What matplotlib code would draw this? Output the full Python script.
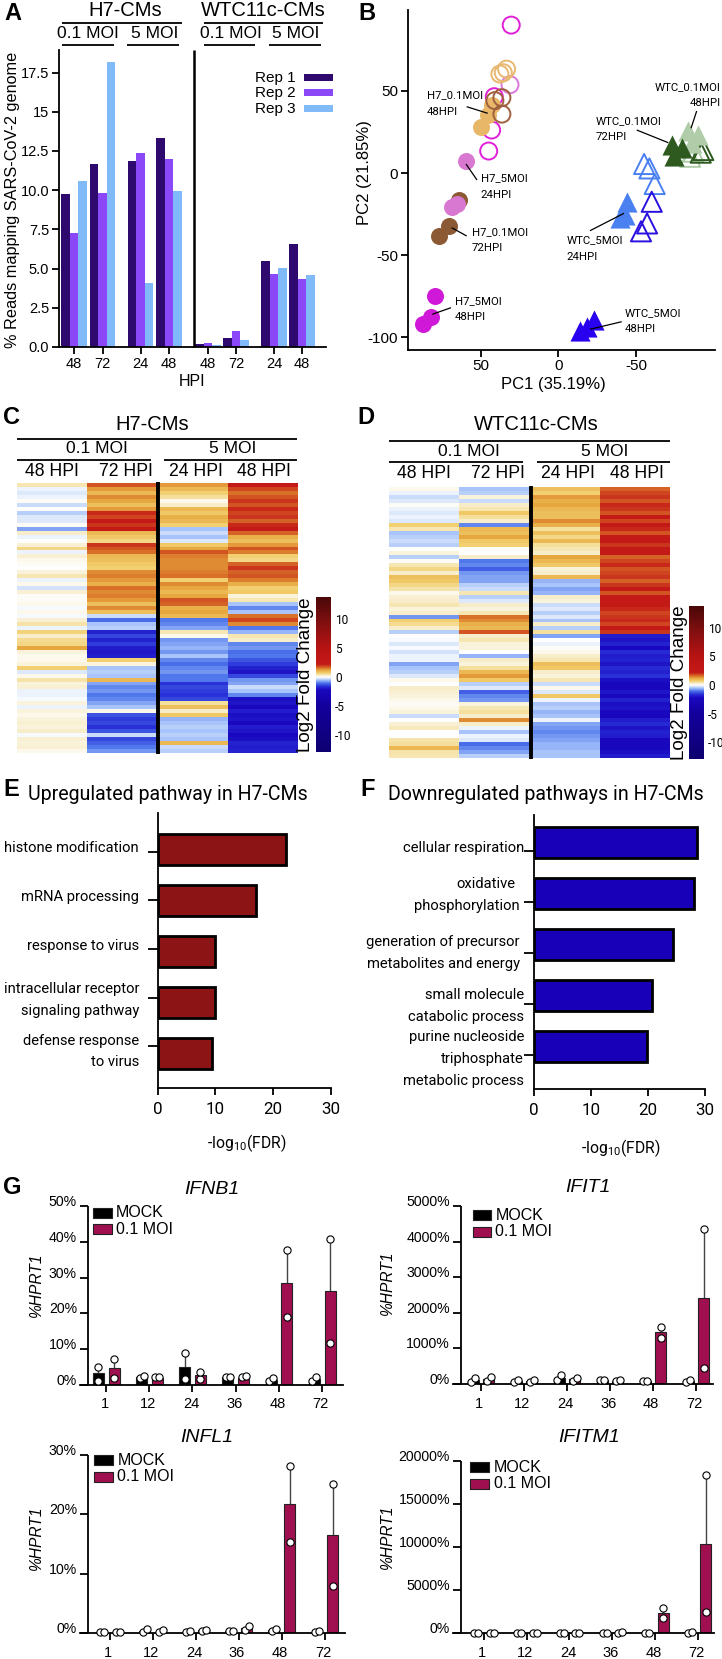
"""Multi-panel SARS-CoV-2 cardiomyocyte figure (A-G)."""

import matplotlib
matplotlib.use('Agg')
import matplotlib.pyplot as plt
from matplotlib import font_manager
from matplotlib.colors import LinearSegmentedColormap, Normalize
import numpy as np

W, H = 722, 1659

# Panel A
rep1 = [9.75, 11.65, 11.85, 13.35, 0.2, 0.55, 5.5, 6.55]
rep2 = [7.25, 9.8, 12.35, 12.0, 0.25, 1.0, 4.65, 4.35]
rep3 = [10.6, 18.2, 4.05, 9.95, 0.15, 0.45, 5.05, 4.6]
a_hpi = ['48', '72', '24', '48', '48', '72', '24', '48']
a_ticks = [0.0, 2.5, 5.0, 7.5, 10.0, 12.5, 15, 17.5]
a_ticklabels = ['0.0', '2.5', '5.0', '7.5', '10.0', '12.5', '15', '17.5']

# Panel B (PC1, PC2 per condition)
h7_5_24_open_x = [30.3, 41.2, 42.9, 44.8]
h7_5_24_open_y = [90.1, 46.5, 26.2, 13.4]
h7_5_24_violet_x = [31.1]
h7_5_24_violet_y = [53.8]
h7_orange_open_x = [33.3, 35.4, 37.6]
h7_orange_open_y = [63.3, 61.1, 60.3]
h7_brown_open_x = [36.3, 40.8, 36.3]
h7_brown_open_y = [45.9, 44.1, 35.9]
h7_orange_x = [42.9, 45.1, 50.0]
h7_orange_y = [41.4, 35.3, 28.2]
h7_brown_x = [63.9, 70.2, 76.6]
h7_brown_y = [-16.4, -32.1, -38.2]
h7_orchid_x = [59.2, 65.5, 68.7]
h7_orchid_y = [7.1, -18.9, -20.9]
h7_magenta_x = [79.4, 82.2, 86.9]
h7_magenta_y = [-74.9, -87.5, -92.0]
wtc_lblue_open_x = [-55.2, -58.6, -62.0]
wtc_lblue_open_y = [5.5, 2.8, -6.7]
wtc_blue_open_x = [-60.1, -57.1, -53.2]
wtc_blue_open_y = [-17.5, -30.7, -35.5]
wtc_lblue_x = [-44.0, -42.9, -39.7]
wtc_lblue_y = [-17.9, -25.6, -27.6]
wtc_blue_x = [-23.2, -18.2, -13.9]
wtc_blue_y = [-89.5, -93.6, -96.2]
wtc_pale_open_x = [-84.8, -86.9]
wtc_pale_open_y = [9.9, 13.0]
wtc_dgreen_open_x = [-93.3, -91.6]
wtc_dgreen_open_y = [14.0, 12.4]
wtc_pale_x = [-83.7, -90.1, -85.8]
wtc_pale_y = [25.8, 23.1, 18.1]
wtc_dgreen_x = [-73.0, -79.4, -74.7]
wtc_dgreen_y = [17.1, 15.0, 10.4]

# Panel C rows, log2 fold change
c_48_01 = [0.4, -0.1, -0.2, -0.1, 0.05, -0.3, 0.02, -0.4, -0.2, -0.2,
           0.05, -0.7, 0.3, -0.1, 0.0, 0.25, 0.6, -0.1, 0.25, 0.1,
           0.05, 0.02, 0.2, 0.4, -0.1, 0.1, -0.25, 0.25, 0.05, 0.05,
           0.1, -0.05, 0.1, -0.05, 0.25, 0.45, -0.1, 0.65, 0.3, 0.55,
           0.6, 1.2, 0.2, 0.1, 0.1, 0.2, 0.7, -0.2, 0.1, 0.45,
           0.2, 0.25, -0.1, -0.1, -0.05, 0.2, -0.1, 0.2, 0.1, 0.2,
           0.25, 0.2, 0.3, -0.05, 0.25, 0.2, 0.25, 0.1]
c_72_01 = [1.8, 1.3, 1.0, 1.4, 1.2, 0.9, 1.3, 2.1, 1.9, 2.2,
           2.0, 2.2, 1.0, 0.8, 0.6, 2.0, 1.8, 1.6, 1.0, 0.9,
           0.8, 0.7, 1.4, 1.5, 1.3, 1.1, 1.6, 1.4, 1.5, 1.3,
           0.9, 1.4, 0.9, -0.3, -1.1, -0.5, -0.4, -1.8, -1.4, -1.8,
           -1.5, -1.9, -2.0, -1.9, 0.7, 0.2, -0.5, -0.4, -0.5, 1.0,
           -0.7, -0.9, -0.8, -1.0, -0.9, -0.7, -0.5, 0.1, -1.3, -1.5,
           -1.4, -1.6, -1.3, -0.3, -1.4, -1.2, -1.0, -0.8]
c_24_5 = [1.3, 1.0, 0.7, 0.5, 0.1, 0.3, 1.0, 0.8, 1.1, 1.0,
          0.7, -0.5, -0.3, -0.5, -0.2, 0.8, 1.2, 1.8, 1.5, 1.4,
          1.4, 1.4, 1.5, 1.6, 0.7, 1.4, 1.2, 1.0, 1.2, 1.8,
          1.7, 1.1, 1.2, 1.0, -1.0, -0.9, -0.7, 0.4, 0.1, -0.8,
          -0.7, -0.6, -0.8, -0.5, -0.9, -1.1, -0.9, -0.8, -1.0, -1.0,
          -1.6, -1.4, -1.5, -1.6, -1.4, 0.5, 0.9, 0.3, 0.8, -0.6,
          -0.5, -0.4, -0.5, -0.4, -0.5, 1.0, -0.3, -0.4]
c_48_5 = [2.3, 1.9, 1.6, 1.8, 2.0, 1.8, 2.1, 1.9, 2.0, 1.7,
          2.1, 2.2, 1.7, 1.1, 0.9, 1.3, 1.8, 1.5, 0.7, 0.6,
          1.7, 2.0, 1.7, 1.8, 1.5, 1.1, 0.7, 0.8, 0.2, 0.4,
          -0.5, -0.9, -0.5, 1.6, 1.9, 1.4, -1.0, -0.6, 0.4, 0.3,
          -0.9, -0.8, -1.1, -1.0, -1.3, -1.5, -1.8, -2.0, -1.4, -0.8,
          -0.7, -0.3, -0.5, -0.9, -2.1, -2.0, -2.2, -1.9, -2.1, -2.0,
          -2.2, -1.9, -2.0, -2.2, -2.1, -1.8, -1.9, -1.8]

# Panel D rows, log2 fold change
d_48_01 = [0.1, -0.1, -0.3, -0.2, 0.05, -0.1, -0.2, -0.1, -0.2, 0.7,
           0.4, -0.5, -0.4, -0.3, -0.4, 0.02, 0.2, -0.4, 0.05, 0.4,
           0.6, 0.3, 0.9, 0.8, 0.6, 0.45, 0.1, 0.25, 0.3, 0.4,
           0.2, 0.3, -0.8, 0.7, 0.55, 0.3, -0.4, 0.0, -0.05, -0.2,
           -0.05, -0.25, -0.1, -0.1, -0.7, -0.5, -0.4, -0.2, 0.1, 0.0,
           0.3, 0.25, 0.2, 0.1, 0.05, 0.1, 0.2, -0.3, 0.0, 0.25,
           0.35, 0.0, 0.0, 0.45, 0.5, 1.0, 0.45, 0.4]
d_72_01 = [-0.5, -0.4, 0.2, -0.3, 0.3, 0.4, 0.8, 0.5, 0.3, -0.9,
           1.0, 0.9, 1.2, 0.8, 0.7, 0.05, 0.0, 0.3, -1.0, -0.9,
           -1.2, -0.8, -0.7, -0.7, -0.4, -0.3, 0.4, -0.4, -0.2, 0.3,
           0.2, 0.4, 1.6, 1.4, 1.1, 1.0, 1.8, 0.3, 0.4, 0.2,
           0.2, 0.0, -0.6, 0.3, 0.2, 0.5, 1.0, 1.3, 0.8, -0.4,
           -0.2, -1.2, -0.9, -0.8, 0.2, 0.4, 0.5, 0.3, 1.4, 0.3,
           -0.1, -0.5, -0.1, -0.2, -1.1, -0.9, -0.7, -0.4]
d_24_5 = [0.9, 0.7, 1.3, 1.1, 1.2, 1.0, 0.9, 0.9, 1.4, 1.1,
          0.5, 0.9, 0.6, 1.0, 0.5, 0.4, 0.3, 1.2, 1.0, 0.8,
          0.2, 0.3, 1.0, -0.6, -0.5, -0.7, -0.6, 0.3, 0.2, -0.3,
          -0.2, -0.4, -0.2, -0.5, 0.3, -0.4, 0.5, -0.7, 0.0, -0.1,
          0.05, 0.1, 0.3, 0.4, 0.9, 0.8, 0.3, 0.2, 0.4, -0.3,
          0.1, -0.2, 0.8, -0.1, -0.5, -0.4, -0.6, -0.5, -0.1, -0.7,
          -0.8, -0.9, -0.8, -0.7, -0.6, -0.6, -0.5, -0.5]
d_48_5 = [1.7, 1.9, 2.0, 1.8, 2.1, 2.0, 1.8, 2.2, 1.9, 2.2,
          2.1, 1.8, 2.2, 2.2, 2.0, 2.3, 2.2, 1.7, 1.9, 2.1,
          1.8, 1.9, 2.0, 1.7, 2.0, 2.2, 1.8, 2.2, 2.3, 2.2,
          2.1, 1.9, 2.0, 2.1, 1.9, 2.2, 2.0, -1.9, -2.0, -1.8,
          -2.2, -1.7, -1.9, -1.8, -2.0, -1.7, -1.8, -1.6, -2.1, -2.3,
          -2.4, -2.0, -2.2, -1.8, -2.1, -2.0, -2.2, -2.3, -1.9, -1.7,
          -2.0, -1.8, -1.9, -2.3, -2.4, -2.3, -2.1, -1.9]

# Panels E and F
up_values = [22.3, 17.1, 10.05, 9.95, 9.5]
down_values = [28.6, 28.1, 24.4, 20.7, 19.85]
fdr_ticks = [0, 10, 20, 30]

# Panel G
hours = ['1', '12', '24', '36', '48', '72']
ifnb1_mock = [3.25, 2.1, 5.1, 2.2, 1.5, 1.7]
ifnb1_moi = [4.7, 2.0, 2.8, 2.0, 28.4, 26.2]
ifnb1_mock_lo = [1.2, 1.9, 1.6, 2.1, 1.2, 1.2]
ifnb1_mock_hi = [5.1, 2.5, 8.9, 2.3, 1.9, 2.2]
ifnb1_moi_lo = [1.9, 2.3, 1.6, 2.1, 19.0, 11.8]
ifnb1_moi_hi = [7.4, 2.3, 3.7, 2.6, 37.7, 40.7]

ifit1_mock = [100, 85, 170, 105, 90, 85]
ifit1_moi = [130, 90, 135, 95, 1450, 2410]
ifit1_mock_lo = [47, 70, 100, 100, 90, 70]
ifit1_mock_hi = [160, 100, 240, 115, 90, 100]
ifit1_moi_lo = [85, 70, 90, 80, 1300, 440]
ifit1_moi_hi = [188, 115, 180, 115, 1610, 4365]

infl1_mock = [0.2, 0.4, 0.3, 0.35, 0.5, 0.25]
infl1_moi = [0.3, 0.3, 0.5, 0.9, 21.8, 16.5]
infl1_mock_lo = [0.2, 0.15, 0.15, 0.35, 0.35, 0.2]
infl1_mock_hi = [0.2, 0.7, 0.45, 0.4, 0.7, 0.35]
infl1_moi_lo = [0.3, 0.15, 0.45, 0.55, 15.4, 8.0]
infl1_moi_hi = [0.3, 0.5, 0.55, 1.3, 28.2, 25.1]

ifitm1_mock = [40, 40, 30, 30, 40, 60]
ifitm1_moi = [40, 50, 50, 90, 2315, 10350]
ifitm1_mock_lo = [0, 0, 40, 40, 40, 40]
ifitm1_mock_hi = [80, 80, 40, 40, 80, 150]
ifitm1_moi_lo = [0, 40, 40, 40, 1740, 2430]
ifitm1_moi_hi = [80, 80, 80, 150, 2930, 18300]


def has_font(name):
    try:
        font_manager.findfont(name, fallback_to_default=False)
        return True
    except ValueError:
        return False


# condensed labels: true narrow face if present, else Roboto which runs a bit tighter
if has_font('Liberation Sans Narrow'):
    NARROW, NARROW_SCALE = 'Liberation Sans Narrow', 1.0
else:
    NARROW, NARROW_SCALE = 'Roboto', 0.87

plt.rcParams['font.family'] = 'Liberation Sans'
plt.rcParams['mathtext.fontset'] = 'custom'
plt.rcParams['mathtext.rm'] = NARROW
plt.rcParams['mathtext.default'] = 'regular'
plt.rcParams['axes.linewidth'] = 1.3

fig = plt.figure(figsize=(W / 100, H / 100), dpi=100)


def ax_px(x0, y0, x1, y1):
    return fig.add_axes([x0 / W, 1 - y1 / H, (x1 - x0) / W, (y1 - y0) / H])


def clean(ax, tick_len=5):
    ax.spines['top'].set_visible(False)
    ax.spines['right'].set_visible(False)
    ax.patch.set_alpha(0)
    ax.tick_params(length=tick_len, width=1.3, pad=2)


over = fig.add_axes([0, 0, 1, 1], zorder=10)
over.set_xlim(0, W)
over.set_ylim(H, 0)
over.axis('off')


def txt(x, y, s, size=12, ha='center', narrow=False, **kw):
    if narrow:
        kw['family'] = NARROW
        size = size * NARROW_SCALE
    over.text(x, y, s, fontsize=size, ha=ha, va='center', **kw)


def line(x0, y0, x1, y1, lw=1.3, color='black'):
    over.plot([x0, x1], [y0, y1], color=color, lw=lw, solid_capstyle='butt')


def letter(x, y, s):
    txt(x, y, s, size=17, ha='left', fontweight='bold')


# ---- Panel A
letter(4, 13, 'A')
ax = ax_px(59, 50, 326, 347)
clean(ax)
group_x = np.array([74, 102.5, 140.7, 169, 208, 236, 274, 302])
bar_w = 8.5
ax.bar(group_x - bar_w, rep1, bar_w, color='#2e0a6e')
ax.bar(group_x, rep2, bar_w, color='#8a48f8')
ax.bar(group_x + bar_w, rep3, bar_w, color='#80baf8')
ax.set_xlim(59, 326)
ax.set_ylim(0, 297 / 15.68)
ax.set_xticks(group_x)
ax.set_xticklabels(a_hpi, fontsize=10.5)
ax.set_yticks(a_ticks)
ax.set_yticklabels(a_ticklabels, fontsize=10.5)
line(194, 50, 194, 347, lw=1.8)
txt(125, 11, 'H7-CMs', size=14.5)
txt(263, 11, 'WTC11c-CMs', size=14.5)
line(62, 22.5, 182, 22.5)
line(204, 22.5, 323, 22.5)
for cx, s, x0, x1 in [(88, '0.1 MOI', 62, 114), (155, '5 MOI', 127, 179),
                      (231, '0.1 MOI', 204, 255), (296, '5 MOI', 269, 321)]:
    txt(cx, 34, s, size=12.5)
    line(x0, 45, x1, 45)
txt(13, 200, '% Reads mapping SARS-CoV-2 genome', size=11.7, rotation=90)
txt(192, 381, 'HPI', size=11.5)
for yy, s, c in [(77, 'Rep 1', '#2e0a6e'), (92, 'Rep 2', '#8a48f8'), (108, 'Rep 3', '#80baf8')]:
    txt(296, yy + 1, s, size=11, ha='right')
    over.fill_between([304, 333], yy - 3.5, yy + 3.5, color=c, lw=0)

# ---- Panel B
letter(358, 13, 'B')
ax = ax_px(407.7, 10, 715, 349.7)
clean(ax)
ax.set_xlim(96.9, -100.8)
ax.set_ylim(-107.6, 99.3)
circle = dict(marker='o', s=150)
tri = dict(marker='^', s=210)


def pts(x, y, color, filled=True, kind=circle, lw=1.4):
    if filled:
        ax.scatter(x, y, color=color, linewidths=0, **kind)
    else:
        ax.scatter(x, y, facecolors='none', edgecolors=color, linewidths=lw, **kind)


pts(h7_5_24_open_x, h7_5_24_open_y, '#e020d8', False)
pts(h7_5_24_violet_x, h7_5_24_violet_y, '#d878d8', False)
pts(h7_orange_open_x, h7_orange_open_y, '#e8b870', False)
pts(h7_orange_x, h7_orange_y, '#e8b868')
pts(h7_brown_open_x, h7_brown_open_y, '#a06040', False)
pts(h7_brown_x, h7_brown_y, '#8b5a35')
pts(h7_orchid_x, h7_orchid_y, '#d878d0')
pts(h7_magenta_x, h7_magenta_y, '#d018d8')
pts(wtc_pale_open_x, wtc_pale_open_y, '#b0cca8', False, tri)
pts(wtc_dgreen_open_x, wtc_dgreen_open_y, '#2e5a20', False, tri)
pts(wtc_pale_x, wtc_pale_y, '#b0cca8', True, tri)
pts(wtc_dgreen_x, wtc_dgreen_y, '#2e5a20', True, tri)
pts(wtc_lblue_open_x, wtc_lblue_open_y, '#4a80f0', False, tri)
pts(wtc_blue_open_x, wtc_blue_open_y, '#2a10e0', False, tri)
pts(wtc_lblue_x, wtc_lblue_y, '#4a80f0', True, tri)
pts(wtc_blue_x, wtc_blue_y, '#2a00f0', True, tri)
ax.set_xticks([50, 0, -50])
ax.set_xticklabels(['50', '0', '-50'], fontsize=11)
ax.set_yticks([50, 0, -50, -100])
ax.set_yticklabels(['50', '0', '-50', '-100'], fontsize=11)
txt(364, 173, 'PC2 (21.85%)', size=12, rotation=90)
txt(553, 384, 'PC1 (35.19%)', size=12)
b_labels = [
    (427, 95, 111.7, 'H7_0.1MOI', '48HPI', 466.7, 106.7, 487.7, 113.3),
    (480.7, 178.3, 195, 'H7_5MOI', '24HPI', 466, 164, 477, 180),
    (471.7, 231.7, 248, 'H7_0.1MOI', '72HPI', 451.7, 227.7, 466.7, 236),
    (455, 300.7, 316.7, 'H7_5MOI', '48HPI', 432.3, 314.3, 451, 307.7),
    (595.7, 120.7, 137.3, 'WTC_0.1MOI', '72HPI', 636.7, 130, 668.3, 142.7),
    (566.7, 240, 256.7, 'WTC_5MOI', '24HPI', 590, 230.7, 624, 213.3),
    (624.3, 312.7, 329, 'WTC_5MOI', '48HPI', 621.7, 321.7, 590, 329.3),
]
for x, y1, y2, s1, s2, lx0, ly0, lx1, ly1 in b_labels:
    txt(x, y1, s1, size=9.4, ha='left', narrow=True)
    txt(x, y2, s2, size=9.4, ha='left', narrow=True)
    line(lx0, ly0, lx1, ly1, lw=0.9)
txt(721, 86.7, 'WTC_0.1MOI', size=9.4, ha='right', narrow=True)
txt(721, 102.7, '48HPI', size=9.4, ha='right', narrow=True)
line(696.7, 111, 691, 128.3, lw=0.9)

# ---- Panels C and D
heat_cmap = LinearSegmentedColormap.from_list('fc', [
    ((v + 13) / 26.8, c) for v, c in [
        (-13, '#0e0070'), (-5, '#14009c'), (-2.2, '#1a08c0'), (-1.6, '#2a30d8'),
        (-1, '#5078ec'), (-0.5, '#a8c4fa'), (-0.15, '#e6eefc'), (0, '#ffffff'),
        (0.3, '#f8eecb'), (0.7, '#f2d070'), (1.2, '#e8a840'), (1.6, '#d87028'),
        (2.2, '#c41a18'), (5, '#b81414'), (10, '#7a0f10'), (13.8, '#4a0808')]
], N=2048)
heat_norm = Normalize(-13, 13.8)


def heatmap(box, columns, bar_x, cbar_box, lab_x, tick_x, tick_vals=(10, 5, 0, -5, -10)):
    x0, y0, x1, y1 = box
    ax = ax_px(x0, y0, x1, y1)
    ax.imshow(np.column_stack(columns), aspect='auto', cmap=heat_cmap, norm=heat_norm,
              interpolation='nearest')
    ax.axis('off')
    line(bar_x, y0 - 1, bar_x, y1 + 1, lw=2.8)
    cax = ax_px(*cbar_box)
    grad = np.linspace(13.8, -12.9, 400).reshape(-1, 1)
    cax.imshow(grad, aspect='auto', cmap=heat_cmap, norm=heat_norm,
               extent=[0, 1, -12.9, 13.8], interpolation='bilinear')
    cax.set_xticks([])
    cax.yaxis.tick_right()
    cax.set_yticks(list(tick_vals))
    cax.set_yticklabels([str(v) for v in tick_vals], fontsize=9.8 * NARROW_SCALE, family=NARROW)
    cax.tick_params(length=0, pad=tick_x)
    for s in cax.spines.values():
        s.set_visible(False)
    txt(lab_x, (cbar_box[1] + cbar_box[3]) / 2, 'Log2 Fold Change', size=13.6, rotation=90)


letter(3, 418, 'C')
txt(152, 424, 'H7-CMs', size=14.5)
line(16.7, 439.3, 296.7, 439.3)
txt(96.7, 448.5, '0.1 MOI', size=12.5)
txt(232.7, 448.5, '5 MOI', size=12.5)
line(16.7, 459.7, 151, 459.7)
line(164, 459.7, 296.7, 459.7)
for cx, s in zip([51.7, 126, 195.7, 264], ['48 HPI', '72 HPI', '24 HPI', '48 HPI']):
    txt(cx, 471, s, size=12.7)
heatmap((16.7, 483, 297, 753), [c_48_01, c_72_01, c_24_5, c_48_5], 158,
        (316, 597, 331, 752), 305, 3)

letter(357, 418, 'D')
txt(536, 424, 'WTC11c-CMs', size=14.5)
line(389, 441.3, 670, 441.3)
txt(469, 451, '0.1 MOI', size=12.5)
txt(605, 451, '5 MOI', size=12.5)
line(389, 461.7, 523, 461.7)
line(536.7, 461.7, 670, 461.7)
for cx, s in zip([424, 498, 568, 636.7], ['48 HPI', '72 HPI', '24 HPI', '48 HPI']):
    txt(cx, 473, s, size=12.7)
heatmap((389, 487, 670, 758), [d_48_01, d_72_01, d_24_5, d_48_5], 531,
        (689, 606, 704, 759), 680, 3)


# ---- Panels E and F
def pathway(box, values, color, bar_y, tick_y, title, title_x, letter_x, letter_s, xlabel_x, xlabel_y):
    x0, y0, x1, y1 = box
    ax = ax_px(x0, y0, x1, y1)
    clean(ax)
    ax.barh(bar_y, values, 31, color=color, edgecolor='black', linewidth=2)
    ax.set_xlim(0, 30)
    ax.set_ylim(y1, y0)
    ax.set_xticks(fdr_ticks)
    ax.set_xticklabels([str(v) for v in fdr_ticks], fontsize=14 * NARROW_SCALE, family=NARROW)
    ax.set_yticks(tick_y)
    ax.set_yticklabels([])
    ax.tick_params(axis='x', pad=5)
    ax.tick_params(axis='y', length=7)
    txt(title_x, 794, title, size=16.2, ha='left', narrow=True)
    letter(letter_x, 790, letter_s)
    txt(xlabel_x, xlabel_y, '-log$_{10}$(FDR)', size=13, narrow=True)


pathway((157.5, 813, 330.6, 1088), up_values, '#8c1414',
        [849.7, 900.7, 951.7, 1002, 1053.7], [851.7, 900.3, 949, 997.7, 1046],
        'Upregulated pathway in H7-CMs', 28.5, 3, 'E', 247, 1143)
pathway((534, 815, 705.3, 1089), down_values, '#1800b8',
        [842.7, 893.7, 944.5, 995, 1046], [851, 902, 953, 1004.3, 1055],
        'Downregulated pathways in H7-CMs', 388, 360, 'F', 620.5, 1148)
up_labels = [(847.7, 'histone modification'), (896.7, 'mRNA processing'), (946, 'response to virus'),
             (989, 'intracellular receptor'), (1011, 'signaling pathway'),
             (1040.7, 'defense response'), (1062.3, 'to virus')]
for y, s in up_labels:
    txt(139, y, s, size=12.2, ha='right', narrow=True)
down_labels = [(524, 847.7, 'cellular respiration'), (515.7, 884, 'oxidative'),
               (519.3, 905.7, 'phosphorylation'), (519.3, 942.3, 'generation of precursor'),
               (520, 964.3, 'metabolites and energy'), (524, 995.3, 'small molecule'),
               (524, 1017, 'catabolic process'), (524, 1037.3, 'purine nucleoside'),
               (524, 1059, 'triphosphate'), (524, 1080.7, 'metabolic process')]
for x, y, s in down_labels:
    txt(x, y, s, size=12.2, ha='right', narrow=True)


# ---- Panel G
def qpcr(box, first_tick, step, x_end, ymax, yticks, ylabels, mock, moi, mock_lo, mock_hi,
         moi_lo, moi_hi, title, title_x, title_y, legend, ylabel_x, ylabel_y, label_y):
    x0, y0, x1, y1 = box
    ax = ax_px(x0 - 8, y0, x_end, y1)
    ax.patch.set_alpha(0)
    for s in ('top', 'right', 'left'):
        ax.spines[s].set_visible(False)
    ax.set_xlim(x0 - 8, x_end)
    ax.set_ylim(0, ymax)
    ticks = first_tick + step * np.arange(6)
    px = (y1 - y0) / ymax
    for offs, means, lows, highs, col in [(-7.7, mock, mock_lo, mock_hi, 'black'),
                                          (8, moi, moi_lo, moi_hi, '#a01050')]:
        xs = ticks + offs
        ax.bar(xs, means, 11, color=col, edgecolor='#222222', linewidth=0.8, zorder=2)
        for x, m, lo, hi in zip(xs, means, lows, highs):
            dodge = 2 if abs(hi - lo) * px < 7 else 0
            if hi > m:
                ax.plot([x, x], [m, hi], color='#444444', lw=1, zorder=1)
            ax.plot([x - dodge], [lo], 'o', ms=5.2, mfc='white', mec='black', mew=0.8,
                    clip_on=False, zorder=3)
            ax.plot([x + dodge], [hi], 'o', ms=5.2, mfc='white', mec='black', mew=0.8,
                    clip_on=False, zorder=3)
    ax.set_xticks(ticks)
    ax.set_xticklabels([])
    ax.set_yticks([])
    ax.tick_params(axis='x', length=5, width=1.3)
    line(x0, y0, x0, y1)
    for t, lab in zip(yticks, ylabels):
        yp = y1 - t * px
        line(x0 - 8, yp, x0, yp)
        txt(x0 - 11, yp - 4, lab, size=10.2, ha='right')
    for t, h in zip(ticks, hours):
        txt(t - 1.5, label_y, h, size=10.5)
    txt(title_x, title_y, title, size=14, style='italic')
    txt(ylabel_x, ylabel_y, '%HPRT1', size=11.2, rotation=90, style='italic')
    lx0, lx1, ly1, ly2, tx = legend
    for yy, c, s in [(ly1, 'black', 'MOCK'), (ly2, '#a01050', '0.1 MOI')]:
        over.fill_between([lx0, lx1], yy - 5, yy + 5, facecolor=c, edgecolor='#222222', lw=0.8)
        txt(tx, yy, s, size=11.5, ha='left')


letter(3, 1187, 'G')
qpcr((88, 1206, 343, 1385), 106, 43.2, 343, 50, [0, 10, 20, 30, 40, 50],
     ['0%', '10%', '20%', '30%', '40%', '50%'],
     ifnb1_mock, ifnb1_moi, ifnb1_mock_lo, ifnb1_mock_hi, ifnb1_moi_lo, ifnb1_moi_hi,
     'IFNB1', 212, 1189, (93.3, 111.7, 1212.7, 1229.3, 116), 36.7, 1285, 1404)
qpcr((461, 1206, 712, 1384), 480.7, 43, 712.7, 5000, [0, 1000, 2000, 3000, 4000, 5000],
     ['0%', '1000%', '2000%', '3000%', '4000%', '5000%'],
     ifit1_mock, ifit1_moi, ifit1_mock_lo, ifit1_mock_hi, ifit1_moi_lo, ifit1_moi_hi,
     'IFIT1', 587.7, 1188, (472.7, 490.7, 1215, 1231.7, 495.3), 387.7, 1283, 1404)
qpcr((88, 1455, 345, 1633.3), 109.5, 43, 345, 30, [0, 10, 20, 30],
     ['0%', '10%', '20%', '30%'],
     infl1_mock, infl1_moi, infl1_mock_lo, infl1_mock_hi, infl1_moi_lo, infl1_moi_hi,
     'INFL1', 206.7, 1438, (94.3, 112.7, 1460.2, 1476.7, 117.3), 36.7, 1538, 1653)
qpcr((461, 1460.7, 714, 1633.3), 483.8, 42.8, 714, 20000, [0, 5000, 10000, 15000, 20000],
     ['0%', '5000%', '10000%', '15000%', '20000%'],
     ifitm1_mock, ifitm1_moi, ifitm1_mock_lo, ifitm1_mock_hi, ifitm1_moi_lo, ifitm1_moi_hi,
     'IFITM1', 588.7, 1438, (470.3, 489.3, 1467, 1483.7, 493.7), 387.7, 1537, 1653)

fig.savefig('out.png', dpi=100)
